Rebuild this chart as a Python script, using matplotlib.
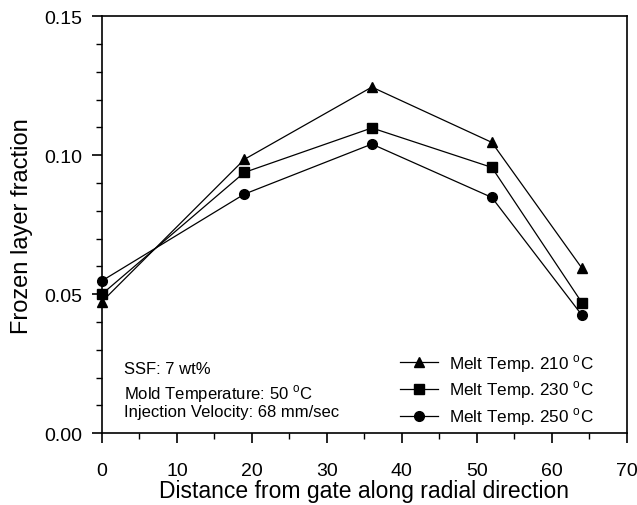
import numpy as np
import matplotlib.pyplot as plt
from matplotlib.ticker import MultipleLocator

plt.rcParams['font.family'] = ['Liberation Sans', 'DejaVu Sans']

distance = [0, 19, 36, 52, 64]
frac_210 = [0.0473, 0.0985, 0.1245, 0.1046, 0.0594]
frac_230 = [0.0500, 0.0938, 0.1098, 0.0956, 0.0470]
frac_250 = [0.0548, 0.0860, 0.1040, 0.0848, 0.0425]

fig = plt.figure(figsize=(6.37, 5.06), dpi=100)
ax = fig.add_axes([0.160, 0.142, 0.824, 0.824])

ax.plot(distance, frac_210, color='black', lw=0.9, marker='^', ms=7.5, label='Melt Temp. 210 $^\\mathregular{o}$C', clip_on=False)
ax.plot(distance, frac_230, color='black', lw=0.9, marker='s', ms=7, label='Melt Temp. 230 $^\\mathregular{o}$C', clip_on=False)
ax.plot(distance, frac_250, color='black', lw=0.9, marker='o', ms=7, label='Melt Temp. 250 $^\\mathregular{o}$C', clip_on=False)

ax.set_xlim(0, 70)
ax.set_ylim(0, 0.15)
ax.xaxis.set_major_locator(MultipleLocator(10))
ax.xaxis.set_minor_locator(MultipleLocator(5))
ax.yaxis.set_major_locator(MultipleLocator(0.05))
ax.yaxis.set_minor_locator(MultipleLocator(0.01))
ax.yaxis.set_major_formatter(plt.FormatStrFormatter('%.2f'))
ax.tick_params(which='major', direction='out', length=7.5, width=1.2, labelsize=14)
ax.tick_params(axis='x', which='major', pad=13)
ax.tick_params(axis='y', which='major', pad=7)
ax.tick_params(which='minor', direction='out', length=4, width=1.0)
for s in ax.spines.values():
    s.set_linewidth(1.2)

ax.set_xlabel('Distance from gate along radial direction', fontsize=16.5, labelpad=0)
ax.set_ylabel('Frozen layer fraction', fontsize=17, labelpad=8)

ax.text(3, 0.0216, 'SSF: 7 wt%', fontsize=12)
ax.text(3, 0.0126, 'Mold Temperature: 50 $^\\mathregular{o}$C', fontsize=12)
ax.text(3, 0.0061, 'Injection Velocity: 68 mm/sec', fontsize=12)

ax.legend(loc='upper left', frameon=False, fontsize=12.3, handlelength=2.2,
          handletextpad=0.65, labelspacing=0.3, borderpad=0, borderaxespad=0,
          bbox_to_anchor=(0.568, 0.195))

fig.savefig('out.png', dpi=100)
